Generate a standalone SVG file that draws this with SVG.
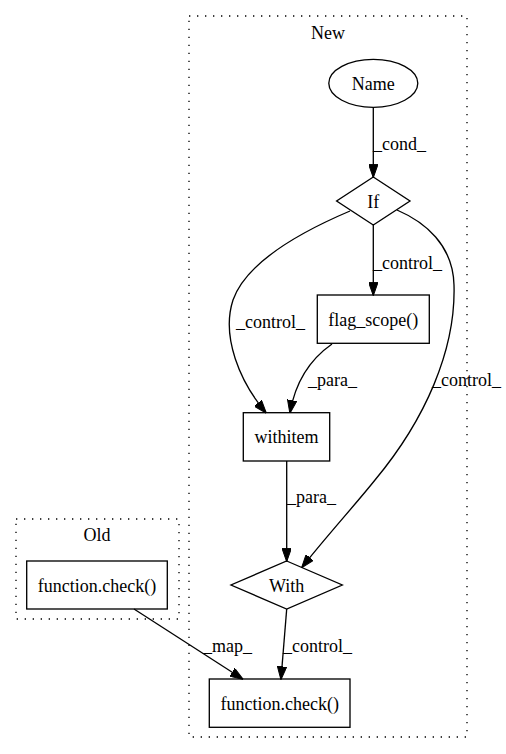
<svg xmlns="http://www.w3.org/2000/svg" width="506" height="754" viewBox="0 0 506 754">
  <style>
    .cluster { fill: none; stroke: #000; stroke-width: 1.33; stroke-dasharray: 1.33 6.67; }
    .node { fill: none; stroke: #000; stroke-width: 1.33; }
    .edge { fill: none; stroke: #000; stroke-width: 1.33; marker-end: url(#arrow); }
    text { font-family: 'Liberation Serif', 'DejaVu Serif', serif; font-size: 18px; fill: #000; }
    .c { text-anchor: middle; }
  </style>
  <defs>
    <marker id="arrow" markerUnits="userSpaceOnUse" viewBox="0 0 13.3 9.4" refX="12.6" refY="4.7" markerWidth="13.3" markerHeight="9.4" orient="auto">
      <path d="M0,0 L13.3,4.7 L0,9.4 z" fill="#000" stroke="#000" stroke-width="1"/>
    </marker>
  </defs>
  <rect width="506" height="754" fill="#fff"/>

  <g font-family="Liberation Serif, DejaVu Serif, serif" font-size="18">
  <!-- clusters -->
  <g id="cluster_new">
    <rect class="cluster" x="189" y="16" width="278" height="721"/>
    <text class="c" x="328" y="39">New</text>
  </g>
  <g id="cluster_old">
    <rect class="cluster" x="16" y="519" width="163" height="100"/>
    <text class="c" x="97" y="541">Old</text>
  </g>

  <!-- connectors -->
  <g id="edges">
    <path class="edge" d="M373.3,107.3 L373.3,177"/>
    <text x="373" y="150">_cond_</text>

    <path class="edge" d="M373.3,225 L373.3,295"/>
    <text x="373" y="269">_control_</text>

    <path class="edge" d="M350,211 C310,228 248,258 233,300 C221,337 240,382 266,412.7"/>
    <text x="236" y="328">_control_</text>

    <path class="edge" d="M332,344 C312,358 296,378 290,412.7"/>
    <text x="308" y="386">_para_</text>

    <path class="edge" d="M397,210 C425,222 453,245 454,285 C456,350 425,420 375,480 C355,505 325,538 302,567.3"/>
    <text x="432" y="386">_control_</text>

    <path class="edge" d="M286.7,461 L286.7,561"/>
    <text x="287" y="503">_para_</text>

    <path class="edge" d="M286.7,609 L281,679"/>
    <text x="283" y="652">_control_</text>

    <path class="edge" d="M134,609 L242.7,679"/>
    <text x="203" y="652">_map_</text>
  </g>

  <!-- nodes -->
  <g id="name">
    <ellipse class="node" cx="373.3" cy="83.3" rx="44.5" ry="24"/>
    <text class="c" x="373.3" y="90">Name</text>
  </g>
  <g id="if">
    <polygon class="node" points="373.3,177 410,201 373.3,225 336.6,201"/>
    <text class="c" x="373.3" y="207.5">If</text>
  </g>
  <g id="flag_scope">
    <rect class="node" x="317.3" y="295" width="112" height="48.3"/>
    <text class="c" x="373.3" y="325.5">flag_scope()</text>
  </g>
  <g id="withitem">
    <rect class="node" x="243.3" y="412.7" width="86.4" height="48.3"/>
    <text class="c" x="286.5" y="443">withitem</text>
  </g>
  <g id="with">
    <polygon class="node" points="286.7,561 342.3,585 286.7,609 231,585"/>
    <text class="c" x="286.7" y="591.5">With</text>
  </g>
  <g id="check_new">
    <rect class="node" x="209.3" y="679" width="140.7" height="48.3"/>
    <text class="c" x="279.7" y="709.5">function.check()</text>
  </g>
  <g id="check_old">
    <rect class="node" x="26.7" y="561" width="140.6" height="48"/>
    <text class="c" x="97" y="591.5">function.check()</text>
  </g>
  </g>
</svg>
